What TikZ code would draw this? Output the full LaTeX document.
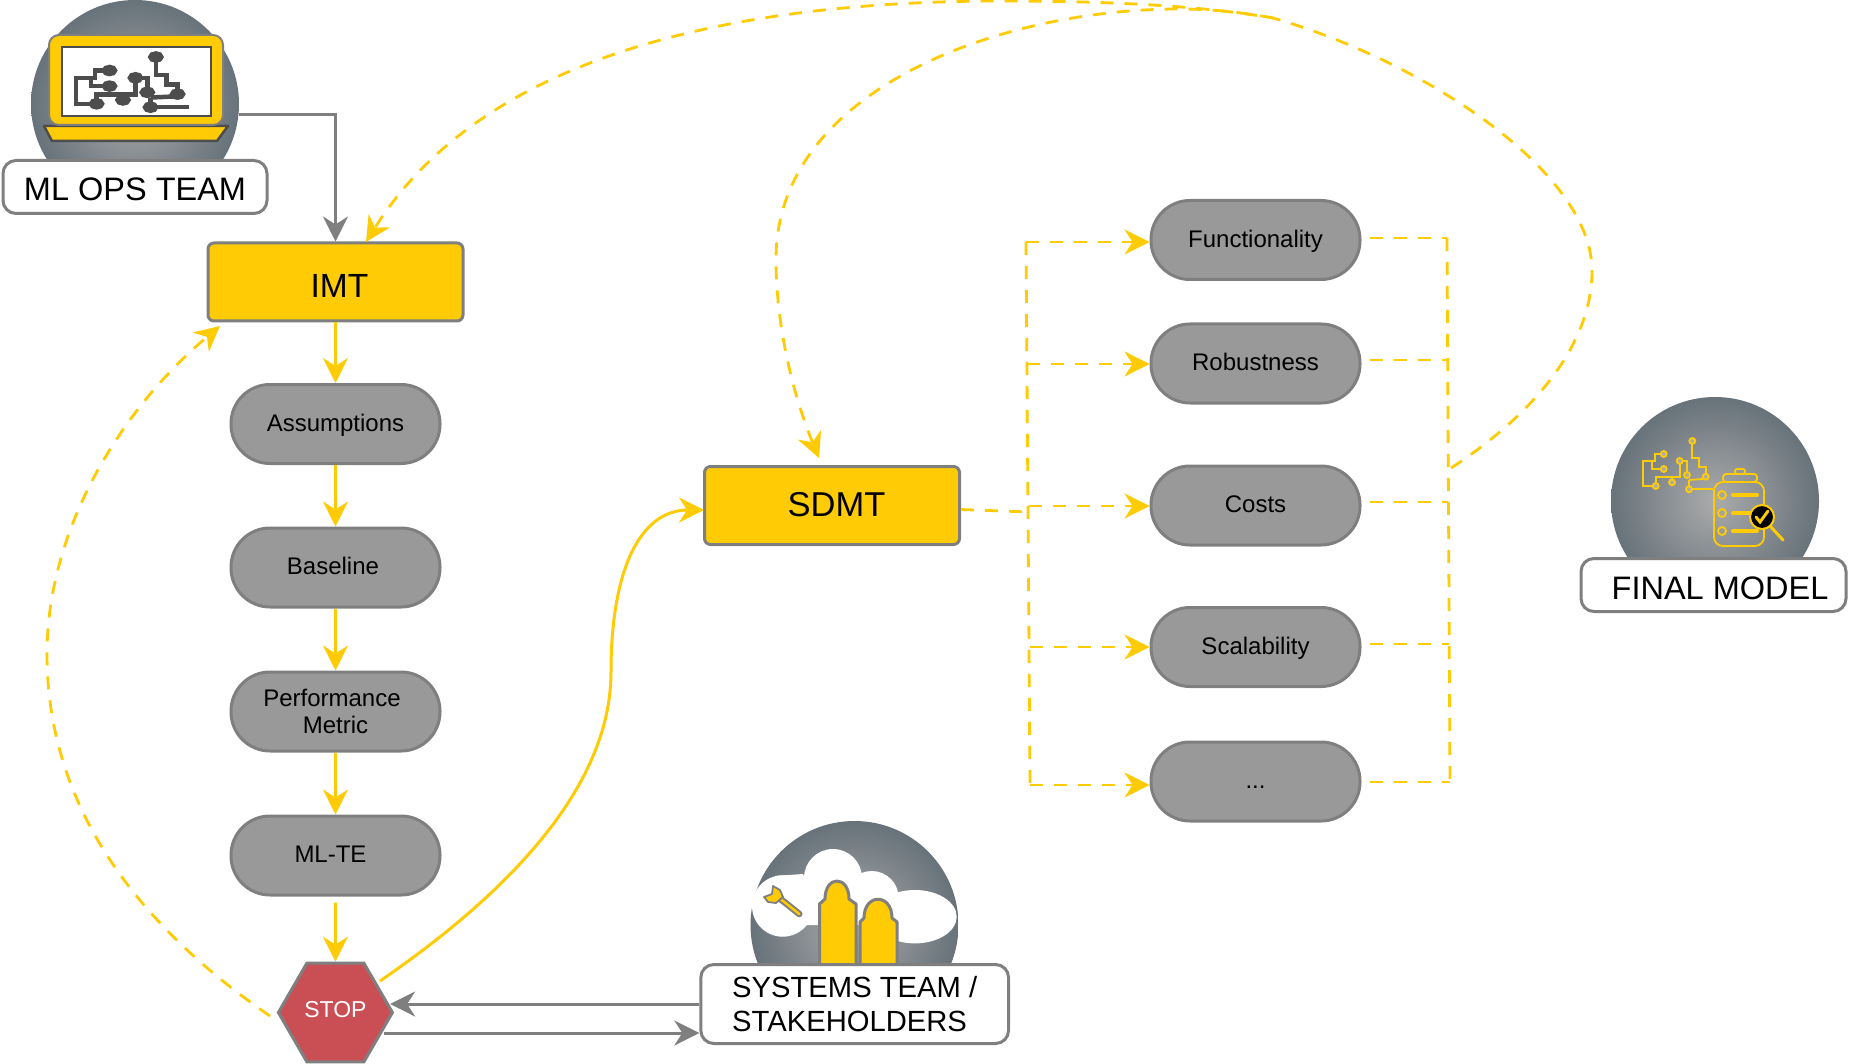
\documentclass[tikz,border=0pt]{standalone}
\usepackage{fontspec}
\setmainfont{Liberation Sans}
\usepackage{xcolor}
\usepackage{tikz}
\usetikzlibrary{arrows.meta}
\usetikzlibrary{calc,shapes.geometric}
\definecolor{flowyellow}{HTML}{FFCB05}
\definecolor{flowgray}{HTML}{7F7F7F}
\definecolor{pillgray}{HTML}{999999}
\definecolor{stopred}{HTML}{C94F55}
\definecolor{discedge}{HTML}{67727A}
\definecolor{disccentre}{HTML}{ABABAB}
\definecolor{boardgray}{HTML}{4D4D4D}
\tikzset{
  pill/.style={draw=flowgray, line width=3pt, fill=pillgray, rounded corners=39pt, minimum width=209pt, minimum height=79pt, align=center, text height=17.5pt, text depth=3pt, font=\fontsize{24}{27}\selectfont},
  stagebox/.style={draw=flowgray, line width=3pt, fill=flowyellow, rounded corners=6pt, minimum width=255pt, minimum height=78pt},
  teambox/.style={draw=flowgray, line width=3pt, fill=white, rounded corners=13pt, align=left},
  disc/.style={circle, inner sep=0pt, minimum size=208pt, inner color=disccentre, outer color=discedge},
  goarrow/.style={flowyellow, line width=3pt, -{Stealth[length=25pt,width=25pt,inset=8pt]}},
  backarrow/.style={flowgray, line width=3pt, -{Stealth[length=25pt,width=25pt,inset=8pt]}},
  dashline/.style={flowyellow, line width=2.8pt, dash pattern=on 13pt off 11pt},
  dasharrow/.style={dashline, -{Stealth[length=25pt,width=25pt,inset=8pt]}},
}
% circuit board trace: #1 origin, #2 xscale, #3 yscale, #4 colour, #5 dot fill, #6 line width, #7 dot radius
\newcommand{\boardtrace}[7]{
  \begin{scope}[shift={(#1)}, xscale=#2, yscale=#3, draw=#4, line width=#6, line join=miter]
    \draw (49.3,0) -- (49.3,17.3) -- (56,17.3) -- (56,26.3) -- (62.7,26.3) -- (62.7,35.7);
    \draw (46,39) -- (60,38);
    \draw (46,39) -- (46,48.3) -- (70,48.3);
    \draw (20.7,13) -- (11.7,13) -- (11.7,20) -- (0,20) -- (0,45) -- (12.7,45) -- (12.7,36.3) -- (36.7,36.3) -- (36.7,20) -- (44,20) -- (44,34);
    \draw (9.3,20) -- (9.3,28) -- (20.7,28);
    \draw (29,36.3) -- (29,41.3);
    \foreach \dotx/\doty in {49.3/0, 62.7/35.7, 46/48.3, 20.7/13, 20.7/28, 12.7/45, 36.7/20, 44/34, 29/41.3} {
      \filldraw[fill=#5] (\dotx,\doty) circle[radius=#7];
    }
  \end{scope}
}

\begin{document}
\begin{tikzpicture}[x=1pt, y=-1pt]
\useasboundingbox (0,0) rectangle (1849,1064);

% ML ops icon
\node[disc] (opsdisc) at (135,104) {};
\draw[boardgray, line width=2.5pt, fill=flowyellow, line join=round] (44,126) -- (228,126) -- (217,141) -- (52,141) -- cycle;
\draw[flowgray, line width=2pt, fill=flowyellow, rounded corners=10pt] (49,35) rectangle (223,125);
\draw[boardgray, line width=1.2pt, fill=white] (62,47) rectangle (211,116);
\boardtrace{76,57}{1.62}{1.04}{boardgray}{boardgray}{4.5pt}{3.4}
\node[teambox, minimum width=264pt, minimum height=53pt, align=center, text height=28pt, text depth=0pt, font=\fontsize{32.5}{36}\selectfont] (opsbox) at (135,187) {ML OPS TEAM};

% final model icon
\node[disc] (finaldisc) at (1715,501) {};
\boardtrace{1643,441}{1}{1}{flowyellow}{disccentre}{1.8pt}{3}
\draw[flowyellow, line width=1.8pt, rounded corners=9pt] (1714,482) rectangle (1764,546);
\draw[flowyellow, line width=1.8pt, rounded corners=3pt] (1723,474) rectangle (1757,482);
\draw[flowyellow, line width=1.8pt, rounded corners=2pt] (1735,469) rectangle (1745,474);
\foreach \rowy in {495,513,531} {
  \draw[flowyellow, line width=1.8pt] (1722,\rowy) circle[radius=4];
  \draw[flowyellow, line width=4pt, line cap=round] (1733,\rowy) -- (1757,\rowy);
}
\draw[flowyellow, line width=3pt, line cap=round] (1770,526) -- (1783,540);
\draw[flowyellow, line width=2pt, fill=black] (1762,517) circle[radius=12];
\draw[flowyellow, line width=3pt, line cap=round] (1756,517) -- (1760,522) -- (1768,511);
\node[teambox, minimum width=265pt, minimum height=53pt, text height=28pt, text depth=0pt, font=\fontsize{32.5}{36}\selectfont] (finalbox) at (1713.5,585) {\hspace*{13pt}FINAL MODEL};

% systems team icon
\node[disc] (sysdisc) at (854.5,925) {};
\fill[white] (782.7,906) circle[radius=30.7];
\fill[white] (775,876) -- (803,874) -- (815,900) -- (780,900) -- cycle;
\fill[white] (833,878) circle[radius=29];
\fill[white] (871.7,898) circle[radius=27];
\fill[white] (915,916.7) ellipse[x radius=41.7, y radius=26.7];
\fill[white] (798,885) -- (835,878) -- (870,885) -- (900,905) -- (900,925) -- (806,925) -- cycle;
\draw[flowgray, line width=3pt, fill=flowyellow, line join=round] (860,965) -- (860,922) -- (864,918) .. controls (864,893) and (892,893) .. (892,918) -- (897,922) -- (897,965);
\draw[flowgray, line width=3pt, fill=flowyellow, line join=round] (819.5,965) -- (819.5,904) -- (825,899) .. controls (825,875) and (849,875) .. (849,899) -- (856,904) -- (856,965);
\draw[flowgray, line width=6.5pt, line cap=round] (778,897) -- (799.3,914);
\draw[flowyellow, line width=2.5pt, line cap=round] (778,897) -- (799.3,914);
\draw[flowgray, line width=1.8pt, fill=flowyellow, line join=round] (764,897) -- (772,894) -- (773,886) -- (780,890) -- (783,897) -- (776,903) -- (768,902) -- cycle;
\node[teambox, minimum width=307.7pt, minimum height=79pt, font=\fontsize{29.2}{34}\selectfont] (sysbox) at (854.7,1004) {SYSTEMS TEAM /\\STAKEHOLDERS};

% stage boxes
\node[stagebox, text height=31pt, text depth=0pt, font=\fontsize{33.5}{36}\selectfont] (imt) at (335.5,282) {\hspace*{8pt}IMT};
\node[stagebox, text depth=2pt, font=\fontsize{34.5}{36}\selectfont] (sdmt) at (832,505.5) {\hspace*{9pt}SDMT};
\node[regular polygon, regular polygon sides=6, draw=flowgray, line width=3pt, fill=stopred, text=white, inner sep=0pt, minimum size=114pt, text depth=6pt, font=\fontsize{23}{27}\selectfont] (stop) at (335.4,1012.5) {STOP};

\foreach \pillname/\ypos/\pilltext in {assump/424/Assumptions, base/567.5/\hspace*{-5pt}Baseline, mlte/855.5/\hspace*{-10pt}ML-TE} {
  \node[pill] (\pillname) at (335.5,\ypos) {\pilltext};
}
\node[pill, text height=44.5pt, text depth=0pt] (perf) at (335.5,711.5) {\hspace*{-7pt}Performance\\Metric};
\foreach \pillname/\ypos/\pilltext in {func/240/Functionality, robust/363.5/Robustness, costs/505.5/Costs, scal/647/Scalability} {
  \node[pill] (\pillname) at (1255.5,\ypos) {\pilltext};
}
\node[pill] (more) at (1255.5,781.5) {...};

% solid flow down the left column
\foreach \fromname/\toname in {imt/assump, assump/base, base/perf, perf/mlte} {
  \draw[goarrow] (\fromname) -- (\toname);
}
\draw[goarrow, shorten <=6pt] (mlte) -- (stop);
\draw[backarrow] (opsdisc.-6) -| (imt);

% to and from the systems team
\draw[backarrow, shorten >=-4pt] (sysbox.west) -- (sysbox.west -| stop.east);
\coordinate (stopout) at (384,1033);
\draw[backarrow] (stopout) -- (stopout -| sysbox.west);

% stop back to imt, stop on to sdmt
\coordinate (stopfail) at (270,1016);
\coordinate (imtin) at (220,326);
\draw[dasharrow] (stopfail) .. controls (130,920) and (47,800) .. (47,654) .. controls (47,530) and (120,410) .. (imtin);
\coordinate (stoppass) at (380,981);
\coordinate (sdmtin) at (704,510);
\draw[goarrow] (stoppass) .. controls (520,885) and (611,780) .. (611,672) .. controls (611,570) and (640,510) .. (sdmtin);

% buses either side of the criteria
\foreach \pillname/\lx/\ly/\rx/\ry in {func/1026/242/1447/238, robust/1027/364/1447/360, costs/1029/506/1448/502, scal/1030/647/1449/644, more/1030/785/1450/782} {
  \coordinate (lbus-\pillname) at (\lx,\ly);
  \coordinate (rbus-\pillname) at (\rx,\ry);
  \draw[dasharrow] (lbus-\pillname) -- (lbus-\pillname -| \pillname.west);
  \draw[dashline] ($(\pillname.east |- rbus-\pillname)+(8,0)$) -- (rbus-\pillname);
}
\draw[dashline] (lbus-func) -- (lbus-more);
\draw[dashline] (rbus-func) -- (rbus-more);
\coordinate (sdmtout) at (1029,512);
\draw[dashline] ([yshift=-4pt]sdmt.east) -- (sdmtout);

% the long loop back
\coordinate (loopstart) at (1451,468);
\coordinate (loopjoin) at (1273,18);
\coordinate (imttop) at (366,242);
\coordinate (sdmttop) at (819,458);
\draw[dasharrow] (loopstart) .. controls (1540,410) and (1592,340) .. (1592,271) .. controls (1592,170) and (1420,60) .. (loopjoin) .. controls (1190,4) and (1090,1) .. (1002,1) .. controls (720,1) and (480,60) .. (imttop);
\draw[dasharrow] (loopjoin) .. controls (1240,12) and (1210,9) .. (1179,9) .. controls (1000,9) and (776,90) .. (776,259) .. controls (776,330) and (795,400) .. (sdmttop);
\end{tikzpicture}
\end{document}
